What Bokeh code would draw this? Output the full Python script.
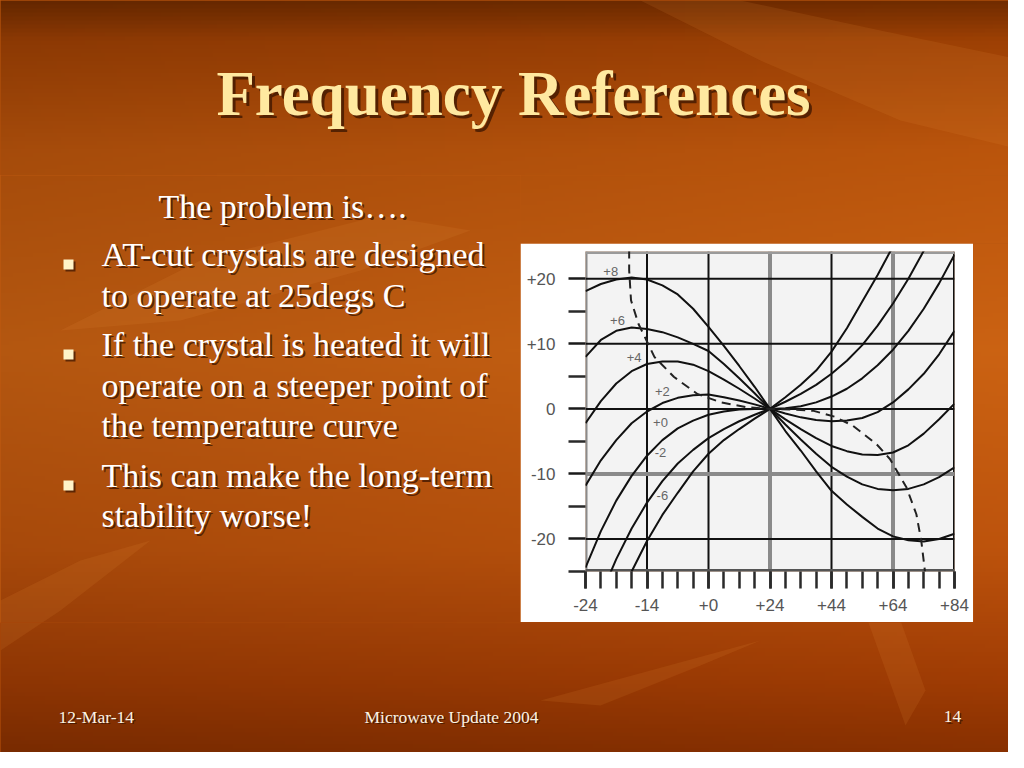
import numpy as np
from bokeh.plotting import figure
from bokeh.layouts import column, row
from bokeh.models import Range1d, FixedTicker, Span
from bokeh.core.properties import value
from bokeh.embed import file_html
from bokeh.resources import INLINE

# ---------------- data ----------------
x_tick_labels = ["-24", "-14", "+0", "+24", "+44", "+64", "+84"]
y_ticks = [-20, -10, 0, 10, 20]
y_tick_labels = ["-20", "-10", "0", "+10", "+20"]
y_minor = [-25, -15, -5, 5, 15]

x_pos = [0.0, 0.25, 0.5, 0.75, 1.0, 1.25, 1.5, 1.75, 2.0, 2.25, 2.5, 2.75, 3.0,
         3.25, 3.5, 3.75, 4.0, 4.25, 4.5, 4.75, 5.0, 5.25, 5.5, 5.75, 6.0]

curve_p8 = [18.1, 19.2, 19.9, 20.2, 19.9, 19.0, 17.6, 15.4, 12.6, 9.7, 6.6, 3.4, 0.0,
            -3.4, -6.4, -9.6, -12.6, -14.7, -16.6, -18.4, -19.6, -20.2, -20.4, -20.0, -19.2]
curve_p6 = [8.0, 10.6, 12.0, 12.5, 12.3, 11.8, 11.0, 10.0, 8.9, 6.9, 4.7, 2.4, 0.0,
            -2.4, -4.7, -6.9, -8.9, -10.4, -11.6, -12.3, -12.5, -12.3, -11.6, -10.5, -9.0]
curve_p4 = [-2.2, 1.2, 3.9, 5.8, 6.9, 7.3, 7.3, 6.8, 5.8, 4.5, 3.1, 1.6, 0.0,
            -1.6, -3.1, -4.5, -5.7, -6.5, -7.0, -7.1, -6.7, -5.6, -3.8, -1.6, 0.8]
curve_p2 = [-11.8, -7.9, -4.8, -2.2, -0.4, 0.9, 1.7, 2.1, 2.2, 1.8, 1.3, 0.7, 0.0,
            -0.7, -1.3, -1.7, -1.9, -1.8, -1.4, -0.5, 1.0, 3.0, 5.4, 8.4, 12.0]
curve_p0 = [-24.4, -18.8, -14.1, -10.3, -7.2, -4.8, -3.0, -1.8, -0.9, -0.4, -0.1, 0.0, 0.0,
            0.1, 0.4, 1.0, 1.9, 3.1, 4.7, 6.7, 9.1, 12.0, 15.4, 19.3, 23.7]
curve_m2 = [-35.1, -28.6, -23.1, -18.4, -14.4, -11.1, -8.4, -6.3, -4.5, -3.1, -1.9, -0.9, 0.0,
            1.1, 2.3, 3.7, 5.4, 7.4, 9.8, 12.8, 16.2, 20.0, 24.3, 29.0, 34.0]
curve_m6 = [-44.0, -36.7, -30.4, -25.0, -20.3, -16.3, -12.9, -9.6, -6.9, -4.8, -3.1, -1.5, 0.0,
            1.8, 3.7, 5.9, 8.8, 12.4, 16.5, 20.6, 25.0, 30.0, 35.0, 41.0, 47.0]

locus_x = [0.71, 0.71, 0.74, 0.86, 1.12, 1.44, 1.82, 2.2, 2.6, 3.0, 3.4, 3.71, 4.05,
           4.35, 4.73, 4.95, 5.22, 5.38, 5.46, 5.52]
locus_y = [24.5, 21.3, 16.7, 13.1, 8.0, 4.9, 2.3, 1.0, 0.3, 0.0, -0.1, -0.3, -1.2,
           -2.6, -5.4, -7.7, -12.1, -16.2, -20.3, -25.0]

curve_labels = ["+8", "+6", "+4", "+2", "+0", "-2", "-6"]
label_x = [0.41, 0.52, 0.79, 1.25, 1.22, 1.22, 1.25]
label_y = [21.2, 13.6, 7.9, 2.7, -2.1, -6.7, -13.3]

title_text = "Frequency References"
intro_text = "The problem is…."
bullet_lines = ["AT-cut crystals are designed", "to operate at 25degs C",
                "If the crystal is heated it will", "operate on a steeper point of",
                "the temperature curve", "This can make the long-term",
                "stability worse!"]
bullet_starts = [0, 2, 5]
footer_left = "12-Mar-14"
footer_mid = "Microwave Update 2004"
footer_right = "14"

# ---------------- slide background ----------------
H, W = 192, 256
sy = (np.arange(H) + 0.5) * 768 / H
sx = (np.arange(W) + 0.5) * 1024 / W
stops = [0, 40, 150, 350, 550, 680, 768]
R_st = [108, 152, 180, 196, 182, 154, 126]
G_st = [42, 62, 82, 95, 80, 58, 44]
B_st = [0, 4, 12, 18, 12, 4, 0]
Rv = np.interp(sy, stops, R_st)
Gv = np.interp(sy, stops, G_st)
Bv = np.interp(sy, stops, B_st)
fx = 0.92 + 0.12 * sx / 1024
rgba = np.empty((H, W), dtype=np.uint32)
view = rgba.view(dtype=np.uint8).reshape((H, W, 4))
view[..., 0] = np.clip(Rv[:, None] * fx[None, :], 0, 255)
view[..., 1] = np.clip(Gv[:, None] * fx[None, :], 0, 255)
view[..., 2] = np.clip(Bv[:, None] * fx[None, :], 0, 255)
view[..., 3] = 255
bg = np.ascontiguousarray(np.flipud(rgba))

leaves = [
    ([640, 760, 900, 1024, 1024, 880, 740], [0, 60, 120, 150, 60, 30, 0]),
    ([60, 200, 380, 470, 360, 180], [330, 260, 215, 230, 270, 320]),
    ([860, 905, 925, 900], [600, 725, 690, 620]),
    ([540, 650, 760, 700, 600], [700, 670, 640, 665, 705]),
    ([0, 80, 150, 60, 0], [600, 560, 540, 610, 650]),
]

SERIF = value("Liberation Serif")
SHADOW = "#3a1400"


def grad_color(s):
    r = np.interp(s, stops, R_st) * 0.98
    g = np.interp(s, stops, G_st) * 0.98
    b = np.interp(s, stops, B_st) * 0.98
    return "#%02x%02x%02x" % (int(r), int(g), int(b))


def bg_fig(x0, x1, s0, s1):
    fill = grad_color((s0 + s1) / 2)
    p = figure(width=x1 - x0, height=s1 - s0,
               x_range=Range1d(x0, x1), y_range=Range1d(768 - s1, 768 - s0),
               output_backend="svg", toolbar_location=None,
               x_axis_location=None, y_axis_location=None, min_border=0,
               background_fill_color=fill, border_fill_color=fill,
               frame_align=False)
    p.grid.visible = False
    p.outline_line_color = None
    p.image_rgba(image=[bg], x=0, y=0, dw=1024, dh=768)
    p.patches([lx for lx, ly in leaves], [[768 - v for v in ly] for lx, ly in leaves],
              fill_color="#e8963c", fill_alpha=0.13, line_color=None)
    return p


def shadow_text(p, x, base, texts, size, color, align="left", bold=False, off=2):
    # base: screen-y baselines; text is placed by its middle (0.34 em above baseline)
    y = [768 - (b - 0.34 * size) for b in base]
    style = "bold" if bold else "normal"
    fs = "%gpx" % size
    p.text(x=[v + off for v in x], y=[v - off for v in y], text=texts, text_font=SERIF,
           text_font_size=fs, text_color=SHADOW, text_alpha=0.75,
           text_align=align, text_baseline="middle", text_font_style=style)
    p.text(x=x, y=y, text=texts, text_font=SERIF, text_font_size=fs,
           text_color=color, text_align=align, text_baseline="middle",
           text_font_style=style)


# title band: screen y 0..175
top = bg_fig(0, 1008, 0, 175)
shadow_text(top, [513], [115], [title_text], 63, "#ffe9a0", align="center", bold=True, off=3)

# left text panel: x 0..520, screen y 175..622
left = bg_fig(0, 520, 175, 622)
shadow_text(left, [158], [218], [intro_text], 34, "#ffffff")
baselines = [266, 307, 356, 397, 437, 487, 527]
shadow_text(left, [101] * len(bullet_lines), baselines, bullet_lines, 34, "#ffffff")
bx = [68 for i in bullet_starts]
by = [768 - (baselines[i] - 2) for i in bullet_starts]
left.scatter([v + 2 for v in bx], [v - 2 for v in by], marker="square", size=10,
             fill_color=SHADOW, fill_alpha=0.7, line_color=None)
left.scatter(bx, by, marker="square", size=10, fill_color="#fff4c8", line_color=None)

# strip above the chart, strip right of the chart
gap = bg_fig(520, 1008, 175, 243)
right = bg_fig(973, 1008, 243, 622)

# footer band
bottom = bg_fig(0, 1008, 622, 752)
shadow_text(bottom, [58], [722], [footer_left], 17.5, "#fbf4e4", off=1.5)
shadow_text(bottom, [451], [722], [footer_mid], 17.5, "#fbf4e4", align="center", off=1.5)
shadow_text(bottom, [952], [722], [footer_right], 17.5, "#fbf4e4", align="center", off=1.5)

# ---------------- the chart ----------------
chart = figure(width=453, height=379, x_range=Range1d(0, 6), y_range=Range1d(-25, 24.2),
               output_backend="svg", toolbar_location=None,
               min_border_left=65, min_border_right=19, min_border_top=8, min_border_bottom=51,
               background_fill_color="#f3f3f3", border_fill_color="#ffffff",
               frame_align=False)
chart.grid.visible = False
chart.outline_line_color = None

x_ticks = list(range(len(x_tick_labels)))
chart.xaxis.ticker = FixedTicker(ticks=x_ticks, minor_ticks=[k / 4 for k in range(4 * x_ticks[-1] + 1)])
chart.xaxis.major_label_overrides = {t: lab for t, lab in zip(x_ticks, x_tick_labels)}
chart.yaxis.ticker = FixedTicker(ticks=y_ticks, minor_ticks=y_minor)
chart.yaxis.major_label_overrides = {t: lab for t, lab in zip(y_ticks, y_tick_labels)}
for ax in (chart.xaxis, chart.yaxis):
    ax.axis_line_color = None
    ax.major_tick_in = 0
    ax.minor_tick_in = 0
    ax.major_tick_out = 17
    ax.minor_tick_out = 17
    ax.major_tick_line_width = 2.5
    ax.minor_tick_line_width = 2.5
    ax.major_tick_line_color = "#1a1a1a"
    ax.minor_tick_line_color = "#2a2a2a"
    ax.major_label_text_font = "Liberation Sans"
    ax.major_label_text_font_size = "17px"
    ax.major_label_text_color = "#555555"
chart.yaxis.major_label_standoff = 13
chart.xaxis.major_label_standoff = 10

vcolors = ["#8a8a8a", "#111111", "#111111", "#8a8a8a", "#111111", "#8a8a8a", "#111111"]
vwidths = [4, 2, 2, 4, 2, 4, 3]
for loc, c, w in zip(x_ticks, vcolors, vwidths):
    chart.add_layout(Span(location=loc, dimension="height", line_color=c, line_width=w, level="underlay"))
hcolors = ["#111111", "#8a8a8a", "#111111", "#111111", "#111111"]
hwidths = [2, 4, 2, 2, 2]
for loc, c, w in zip(y_ticks, hcolors, hwidths):
    chart.add_layout(Span(location=loc, dimension="width", line_color=c, line_width=w, level="underlay"))
chart.add_layout(Span(location=chart.y_range.start, dimension="width", line_color="#555555", line_width=5, level="underlay"))
chart.add_layout(Span(location=chart.y_range.end, dimension="width", line_color="#9a9a9a", line_width=5, level="underlay"))

for curve in (curve_p8, curve_p6, curve_p4, curve_p2, curve_p0, curve_m2, curve_m6):
    chart.line(x_pos, curve, line_color="#111111", line_width=2)
chart.line(locus_x, locus_y, line_color="#222222", line_width=2, line_dash="9 6")
chart.text(x=label_x, y=label_y, text=curve_labels, text_font=value("Liberation Sans"),
           text_font_size="13px", text_color="#666666", text_align="center", text_baseline="middle")

bgstyle = {"background-color": grad_color(400)}
right_side = column(gap, row(chart, right, styles=bgstyle), styles=bgstyle)
layout = column(top, row(left, right_side, styles=bgstyle), bottom, styles=bgstyle)
open("out.html", "w").write(file_html(layout, INLINE))
